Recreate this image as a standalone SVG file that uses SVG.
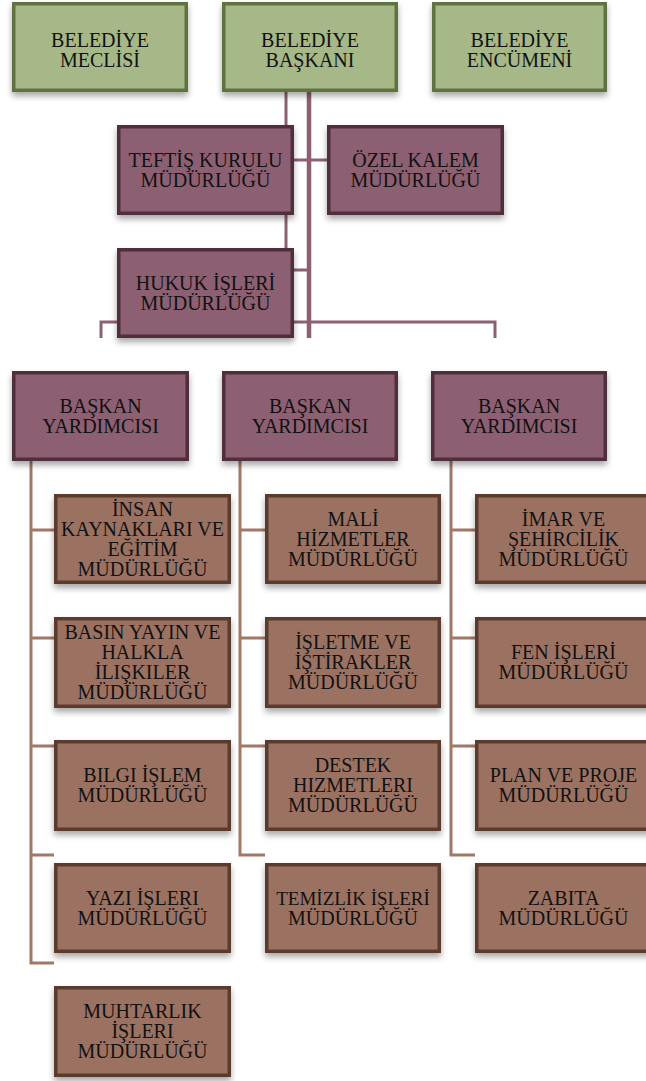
<svg xmlns="http://www.w3.org/2000/svg" width="646" height="1081" viewBox="0 0 646 1081">
<defs>
<filter id="sh" x="-10%" y="-10%" width="120%" height="130%">
<feDropShadow dx="0" dy="4" stdDeviation="3" flood-color="#000" flood-opacity="0.35"/>
</filter>
<style>
.g{fill:#a6b888;stroke:#5f7341;stroke-width:3.5;filter:url(#sh)}
.p{fill:#8c6072;stroke:#502d3c;stroke-width:3.5;filter:url(#sh)}
.b{fill:#9b7262;stroke:#5a3a2e;stroke-width:3.5;filter:url(#sh)}
.t{font-family:'Liberation Serif',serif;font-size:20px;fill:#111;text-anchor:middle}
.cp{stroke:#8c6072;fill:none}
.cb{stroke:#a07868;stroke-width:3;fill:none}
</style>
</defs>
<rect width="646" height="1081" fill="#fff"/>
<g id="connectors">
<path class="cp" stroke-width="3" d="M286 92V248"/>
<path class="cp" stroke-width="4.5" d="M309 92V338"/>
<path class="cp" stroke-width="3" d="M294 160H327M294 270H309M101 338V322H495V338"/>
<path class="cb" d="M31 461V963H54M31 530H54M31 638H54M31 746H54M31 855H54"/>
<path class="cb" d="M240 461V855H265M240 530H265M240 638H265M240 746H265"/>
<path class="cb" d="M451 461V855H475M451 530H475M451 638H475M451 746H475"/>
</g>
<g id="meclis"><rect class="g" x="13.75" y="3.75" width="172.5" height="86.5"/><text class="t" x="100" y="46.5">BELEDİYE</text><text class="t" x="100" y="66.5">MECLİSİ</text></g>
<g id="baskan"><rect class="g" x="223.75" y="3.75" width="172.5" height="86.5"/><text class="t" x="310" y="46.5">BELEDİYE</text><text class="t" x="310" y="66.5">BAŞKANI</text></g>
<g id="encumen"><rect class="g" x="433.75" y="3.75" width="171.5" height="86.5"/><text class="t" x="519.5" y="46.5">BELEDİYE</text><text class="t" x="519.5" y="66.5">ENCÜMENİ</text></g>
<g id="teftis"><rect class="p" x="118.75" y="126.75" width="173.5" height="86.5"/><text class="t" x="205.5" y="166.5">TEFTİŞ KURULU</text><text class="t" x="205.5" y="186.5">MÜDÜRLÜĞÜ</text></g>
<g id="ozel"><rect class="p" x="328.75" y="126.75" width="173.5" height="86.5"/><text class="t" x="415.5" y="166.5">ÖZEL KALEM</text><text class="t" x="415.5" y="186.5">MÜDÜRLÜĞÜ</text></g>
<g id="hukuk"><rect class="p" x="118.75" y="249.75" width="173.5" height="86.5"/><text class="t" x="205.5" y="289.5">HUKUK İŞLERİ</text><text class="t" x="205.5" y="309.5">MÜDÜRLÜĞÜ</text></g>
<g id="by1"><rect class="p" x="13.75" y="372.75" width="173.5" height="86.5"/><text class="t" x="100.5" y="412.5">BAŞKAN</text><text class="t" x="100.5" y="432.5">YARDIMCISI</text></g>
<g id="by2"><rect class="p" x="223.75" y="372.75" width="172.5" height="86.5"/><text class="t" x="310" y="412.5">BAŞKAN</text><text class="t" x="310" y="432.5">YARDIMCISI</text></g>
<g id="by3"><rect class="p" x="432.75" y="372.75" width="172.5" height="86.5"/><text class="t" x="519" y="412.5">BAŞKAN</text><text class="t" x="519" y="432.5">YARDIMCISI</text></g>
<g id="insan"><rect class="b" x="55.75" y="495.75" width="173.5" height="86.5"/><text class="t" x="142.5" y="515.5">İNSAN</text><text class="t" x="142.5" y="535.5">KAYNAKLARI VE</text><text class="t" x="142.5" y="555.5">EĞİTİM</text><text class="t" x="142.5" y="575.5">MÜDÜRLÜĞÜ</text></g>
<g id="basin"><rect class="b" x="55.75" y="618.75" width="173.5" height="87.5"/><text class="t" x="142.5" y="639">BASIN YAYIN VE</text><text class="t" x="142.5" y="659">HALKLA</text><text class="t" x="142.5" y="679">İLIŞKILER</text><text class="t" x="142.5" y="699">MÜDÜRLÜĞÜ</text></g>
<g id="bilgi"><rect class="b" x="55.75" y="741.75" width="173.5" height="87.5"/><text class="t" x="142.5" y="782">BILGI İŞLEM</text><text class="t" x="142.5" y="802">MÜDÜRLÜĞÜ</text></g>
<g id="yazi"><rect class="b" x="55.75" y="864.75" width="173.5" height="86.5"/><text class="t" x="142.5" y="904.5">YAZI İŞLERI</text><text class="t" x="142.5" y="924.5">MÜDÜRLÜĞÜ</text></g>
<g id="muhtarlik"><rect class="b" x="55.75" y="987.75" width="173.5" height="87.5"/><text class="t" x="142.5" y="1018">MUHTARLIK</text><text class="t" x="142.5" y="1038">İŞLERI</text><text class="t" x="142.5" y="1058">MÜDÜRLÜĞÜ</text></g>
<g id="mali"><rect class="b" x="266.75" y="495.75" width="172.5" height="86.5"/><text class="t" x="353" y="525.5">MALİ</text><text class="t" x="353" y="545.5">HİZMETLER</text><text class="t" x="353" y="565.5">MÜDÜRLÜĞÜ</text></g>
<g id="isletme"><rect class="b" x="266.75" y="618.75" width="172.5" height="87.5"/><text class="t" x="353" y="649">İŞLETME VE</text><text class="t" x="353" y="669">İŞTİRAKLER</text><text class="t" x="353" y="689">MÜDÜRLÜĞÜ</text></g>
<g id="destek"><rect class="b" x="266.75" y="741.75" width="172.5" height="87.5"/><text class="t" x="353" y="772">DESTEK</text><text class="t" x="353" y="792">HIZMETLERI</text><text class="t" x="353" y="812">MÜDÜRLÜĞÜ</text></g>
<g id="temizlik"><rect class="b" x="266.75" y="864.75" width="172.5" height="86.5"/><text class="t" x="353" y="904.5" font-size="19" style="font-size:19px">TEMİZLİK İŞLERİ</text><text class="t" x="353" y="924.5">MÜDÜRLÜĞÜ</text></g>
<g id="imar"><rect class="b" x="476.75" y="495.75" width="173.5" height="86.5"/><text class="t" x="563.5" y="525.5">İMAR VE</text><text class="t" x="563.5" y="545.5">ŞEHİRCİLİK</text><text class="t" x="563.5" y="565.5">MÜDÜRLÜĞÜ</text></g>
<g id="fen"><rect class="b" x="476.75" y="618.75" width="173.5" height="87.5"/><text class="t" x="563.5" y="659">FEN İŞLERİ</text><text class="t" x="563.5" y="679">MÜDÜRLÜĞÜ</text></g>
<g id="plan"><rect class="b" x="476.75" y="741.75" width="173.5" height="87.5"/><text class="t" x="563.5" y="782">PLAN VE PROJE</text><text class="t" x="563.5" y="802">MÜDÜRLÜĞÜ</text></g>
<g id="zabita"><rect class="b" x="476.75" y="864.75" width="173.5" height="86.5"/><text class="t" x="563.5" y="904.5">ZABITA</text><text class="t" x="563.5" y="924.5">MÜDÜRLÜĞÜ</text></g>
</svg>
